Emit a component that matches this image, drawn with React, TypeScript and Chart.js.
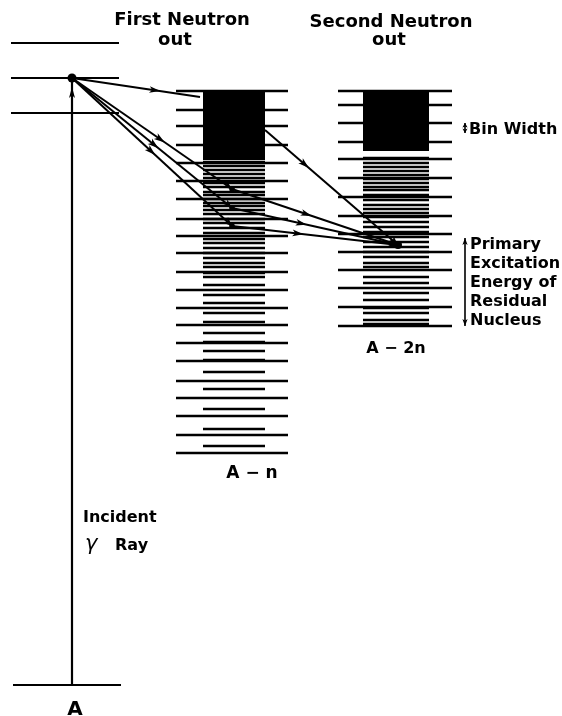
import React, { useEffect, useRef } from "react";
import { Chart, registerables } from "chart.js";
Chart.register(...registerables);

// ---- Data (energies in diagram units above the ground state of A) ----
const levelsA = [642, 607, 572, 0];
const incidentEnergy = 607;

const levelsAnLong = [594, 575, 559, 540, 522, 504, 486, 466, 449, 432, 413, 395, 377, 360, 342, 324, 304, 287, 269, 250, 232];
const continuumAn = [594, 525];
const binsAn = [523, 519, 515, 511, 507, 502, 498, 493, 490, 486, 482, 479, 475, 471, 466, 462, 457, 452, 446, 442, 437, 432, 427, 422, 418, 412, 408, 400, 390, 382, 372, 363, 352, 343, 334, 325, 313, 296, 276, 256, 239];

const levelsA2nLong = [594, 580, 562, 543, 526, 507, 488, 469, 451, 433, 415, 397, 378, 359];
const continuumA2n = [594, 534];
const binsA2n = [527, 522, 518, 514, 510, 506, 502, 498, 495, 490, 485, 480, 476, 472, 468, 463, 458, 453, 448, 443, 438, 433, 428, 422, 418, 408, 402, 392, 385, 377, 372, 365, 361];

const firstNeutronLevels = [496, 477, 459];
const continuumEntryAn = 588;
const continuumExitAn = 555;
const secondNeutronLevel = 440;
const binWidthMarker = [562, 552];
const primaryExcitationMarker = [447, 359];

// ---- Layout (diagram x positions) ----
const L = {
  A: { x0: 11, x1: 119, g0: 13, g1: 121, mid: 72 },
  An: { x0: 176, x1: 288, b0: 203, b1: 265, pt: 232, entry: 200 },
  A2n: { x0: 338, x1: 452, b0: 363, b1: 429, pt: 398 },
  marker: 465,
};

const BLACK = "#000";

function hline(x0: number, x1: number, e: number, w: number) {
  return {
    data: [{ x: x0, y: e }, { x: x1, y: e }],
    borderColor: BLACK,
    borderWidth: w,
    pointRadius: 0,
    fill: false,
  };
}

function seg(p0: { x: number; y: number }, p1: { x: number; y: number }, arrows: { at: number; dir: number; len?: number; half?: number }[], w = 2) {
  return {
    data: [p0, p1],
    borderColor: BLACK,
    borderWidth: w,
    pointRadius: 0,
    fill: false,
    arrows,
  };
}

const arrowPlugin = {
  id: "arrowheads",
  afterDatasetsDraw(chart: any) {
    const { ctx } = chart;
    const xs = chart.scales.x;
    const ys = chart.scales.y;
    chart.data.datasets.forEach((ds: any) => {
      if (!ds.arrows) return;
      const a = ds.data[0];
      const b = ds.data[ds.data.length - 1];
      const x0 = xs.getPixelForValue(a.x), y0 = ys.getPixelForValue(a.y);
      const x1 = xs.getPixelForValue(b.x), y1 = ys.getPixelForValue(b.y);
      const dx = x1 - x0, dy = y1 - y0;
      const len = Math.hypot(dx, dy) || 1;
      ds.arrows.forEach((ar: any) => {
        const ux = (dx / len) * ar.dir, uy = (dy / len) * ar.dir;
        const tx = x0 + dx * ar.at, ty = y0 + dy * ar.at;
        const L2 = ar.len ?? 11, H = ar.half ?? 3.4;
        ctx.save();
        ctx.fillStyle = BLACK;
        ctx.beginPath();
        ctx.moveTo(tx, ty);
        ctx.lineTo(tx - ux * L2 - uy * H, ty - uy * L2 + ux * H);
        ctx.lineTo(tx - ux * L2 * 0.75, ty - uy * L2 * 0.75);
        ctx.lineTo(tx - ux * L2 + uy * H, ty - uy * L2 - ux * H);
        ctx.closePath();
        ctx.fill();
        ctx.restore();
      });
    });
  },
};

type Lbl = { text: string; x: number; e: number; align: CanvasTextAlign; font: string };
const HEAD = "bold 18px 'DejaVu Sans'";
const SIDE = "bold 16px 'DejaVu Sans'";
const labels: Lbl[] = [
  { text: "First Neutron", x: 182, e: 660, align: "center", font: HEAD },
  { text: "out", x: 175, e: 640, align: "center", font: HEAD },
  { text: "Second Neutron", x: 391, e: 658, align: "center", font: HEAD },
  { text: "out", x: 389, e: 640, align: "center", font: HEAD },
  { text: "Bin Width", x: 469, e: 551.5, align: "left", font: SIDE },
  { text: "Primary", x: 470, e: 436, align: "left", font: SIDE },
  { text: "Excitation", x: 470, e: 417, align: "left", font: SIDE },
  { text: "Energy of", x: 470, e: 398, align: "left", font: SIDE },
  { text: "Residual", x: 470, e: 379, align: "left", font: SIDE },
  { text: "Nucleus", x: 470, e: 360, align: "left", font: SIDE },
  { text: "A − n", x: 252, e: 207, align: "center", font: "bold 17px 'DejaVu Sans'" },
  { text: "A − 2n", x: 396, e: 332, align: "center", font: "bold 16px 'DejaVu Sans'" },
  { text: "A", x: 75, e: -30, align: "center", font: "bold 20px 'DejaVu Sans'" },
  { text: "Incident", x: 83, e: 163, align: "left", font: SIDE },
  { text: "γ", x: 85, e: 135, align: "left", font: "italic 21px 'DejaVu Sans'" },
  { text: "Ray", x: 115, e: 135, align: "left", font: SIDE },
];

const textPlugin = {
  id: "texts",
  afterDraw(chart: any) {
    const { ctx } = chart;
    const xs = chart.scales.x;
    const ys = chart.scales.y;
    ctx.save();
    ctx.fillStyle = BLACK;
    ctx.textBaseline = "alphabetic";
    labels.forEach((l) => {
      ctx.font = l.font;
      ctx.textAlign = l.align;
      ctx.fillText(l.text, xs.getPixelForValue(l.x), ys.getPixelForValue(l.e));
    });
    ctx.restore();
  },
};

export default function App() {
  const ref = useRef<HTMLCanvasElement>(null);
  useEffect(() => {
    if (!ref.current) return;
    const datasets: any[] = [];

    // Nucleus A
    levelsA.forEach((e, i) => {
      const last = i === levelsA.length - 1;
      datasets.push(hline(last ? L.A.g0 : L.A.x0, last ? L.A.g1 : L.A.x1, e, 2.2));
    });
    // A - n
    levelsAnLong.forEach((e) => datasets.push(hline(L.An.x0, L.An.x1, e, 2.4)));
    binsAn.forEach((e) => datasets.push(hline(L.An.b0, L.An.b1, e, 2.6)));
    datasets.push({
      data: [{ x: L.An.b0, y: continuumAn[0] }, { x: L.An.b1, y: continuumAn[0] }],
      borderWidth: 0,
      borderColor: BLACK,
      backgroundColor: BLACK,
      pointRadius: 0,
      fill: { value: continuumAn[1] },
    });
    // A - 2n
    levelsA2nLong.forEach((e) => datasets.push(hline(L.A2n.x0, L.A2n.x1, e, 2.4)));
    binsA2n.forEach((e) => datasets.push(hline(L.A2n.b0, L.A2n.b1, e, 2.6)));
    datasets.push({
      data: [{ x: L.A2n.b0, y: continuumA2n[0] }, { x: L.A2n.b1, y: continuumA2n[0] }],
      borderWidth: 0,
      borderColor: BLACK,
      backgroundColor: BLACK,
      pointRadius: 0,
      fill: { value: continuumA2n[1] },
    });

    // Incident gamma ray
    datasets.push(seg({ x: L.A.mid, y: levelsA[3] }, { x: L.A.mid, y: incidentEnergy }, [{ at: 0.985, dir: 1, len: 11, half: 3 }], 2.2));

    const src = { x: L.A.mid, y: incidentEnergy };
    // First neutron emission
    datasets.push(seg(src, { x: L.An.entry, y: continuumEntryAn }, [{ at: 0.69, dir: 1 }]));
    const firstFr = [0.58, 0.54, 0.52];
    firstNeutronLevels.forEach((e, i) => {
      datasets.push(seg(src, { x: L.An.pt, y: e }, [{ at: firstFr[i], dir: 1 }, { at: 1, dir: 1, len: 9, half: 3.8 }]));
    });
    // Second neutron emission
    const dst = { x: L.A2n.pt, y: secondNeutronLevel };
    datasets.push(seg({ x: L.An.b1, y: continuumExitAn }, dst, [{ at: 0.33, dir: 1 }, { at: 1, dir: 1, len: 9, half: 3.8 }]));
    const secondFr = [0.48, 0.45, 0.43];
    firstNeutronLevels.forEach((e, i) => {
      datasets.push(seg({ x: L.An.pt, y: e }, dst, [{ at: secondFr[i], dir: 1 }, { at: 1, dir: 1, len: 9, half: 3.8 }]));
    });

    // Markers
    datasets.push(seg({ x: L.marker, y: binWidthMarker[0] }, { x: L.marker, y: binWidthMarker[1] }, [{ at: 0, dir: -1, len: 4.5, half: 2.6 }, { at: 1, dir: 1, len: 4.5, half: 2.6 }], 1.6));
    datasets.push(seg({ x: L.marker, y: primaryExcitationMarker[0] }, { x: L.marker, y: primaryExcitationMarker[1] }, [{ at: 0, dir: -1, len: 7, half: 2.6 }, { at: 1, dir: 1, len: 7, half: 2.6 }], 1.6));

    // Points
    datasets.push({
      data: [src, ...firstNeutronLevels.map((e) => ({ x: L.An.pt, y: e })), dst],
      showLine: false,
      pointRadius: [4.5, 2.8, 2.8, 2.8, 4],
      pointBackgroundColor: BLACK,
      pointBorderColor: BLACK,
      pointBorderWidth: 0,
      borderWidth: 0,
    });

    const chart = new Chart(ref.current, {
      type: "line",
      data: { datasets },
      options: {
        animation: false,
        responsive: true,
        maintainAspectRatio: false,
        layout: { padding: 0, autoPadding: false },
        plugins: { legend: { display: false }, tooltip: { enabled: false } },
        events: [],
        scales: {
          x: { type: "linear", min: 0, max: 562, display: false },
          y: { type: "linear", min: -31, max: 685, display: false },
        },
      },
      plugins: [arrowPlugin, textPlugin],
    });
    return () => chart.destroy();
  }, []);

  return (
    <div style={{ position: "absolute", left: 0, top: 0, width: 562, height: 716, background: "#fff" }}>
      <canvas ref={ref} />
    </div>
  );
}
